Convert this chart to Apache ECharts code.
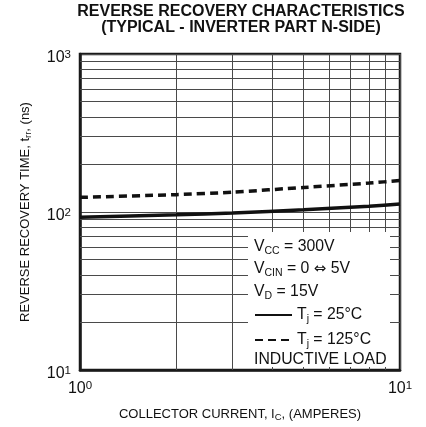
<!DOCTYPE html>
<html>
<head>
<meta charset="utf-8">
<script src="https://cdn.jsdelivr.net/npm/echarts@6/dist/echarts.min.js"></script>
<style>
html,body{margin:0;padding:0;background:#fff;}
#chart{width:426px;height:427px;}
</style>
</head>
<body>
<div id="chart"></div>
<script>
// ---- data ----
var currentA = [1, 2, 3, 5, 8, 10];
var trr25 = [92.8, 96.0, 98.6, 103.2, 108.7, 112.2];
var trr125 = [123.8, 128.8, 133.5, 143.0, 152.4, 158.3];
var xMinorGrid = [2, 3, 4, 5, 6, 7, 8, 9];
var yMinorGrid = [20, 30, 40, 50, 60, 70, 80, 90, 200, 300, 400, 500, 600, 700, 800, 900];
var xRange = [1, 10];
var yRange = [10, 1000];
var titleLines = ['REVERSE RECOVERY CHARACTERISTICS', '(TYPICAL - INVERTER PART N-SIDE)'];
var name25 = 'Tj = 25°C';
var name125 = 'Tj = 125°C';

var FONT = "'Liberation Sans', Arial, Helvetica, sans-serif";
var INK = '#111';
var GRIDC = '#4a4a4a';

function pairs(xs, ys) { return xs.map(function (x, i) { return [x, ys[i]]; }); }

var gridSegs = xMinorGrid.map(function (v) { return { coords: [[v, yRange[0]], [v, yRange[1]]] }; })
  .concat(yMinorGrid.map(function (v) { return { coords: [[xRange[0], v], [xRange[1], v]] }; }));

var boxRich = {
  m: { fontSize: 15.8, lineHeight: 20, fontFamily: FONT, fontWeight: 'normal', color: INK },
  a: { fontSize: 15, lineHeight: 20, fontFamily: "'DejaVu Sans', sans-serif", fontWeight: 'normal', color: INK },
  s: { fontSize: 10.5, lineHeight: 12, verticalAlign: 'bottom', fontFamily: FONT, fontWeight: 'normal', color: INK }
};
function boxText(txt, top) {
  return { text: txt, left: 254, top: top, padding: 0, z: 6,
           textStyle: { rich: boxRich, fontFamily: FONT, fontWeight: 'normal' } };
}
function powLabel(v) { return '{b|10}{p|' + Math.round(Math.log10(v)) + '}'; }
var labelRich = {
  b: { fontSize: 16, lineHeight: 18, fontFamily: FONT, color: INK },
  p: { fontSize: 11.5, lineHeight: 10, verticalAlign: 'top', fontFamily: FONT, color: INK }
};
var nameRich = {
  n: { fontSize: 13, lineHeight: 16, fontFamily: FONT, color: INK },
  s: { fontSize: 9.5, lineHeight: 10, verticalAlign: 'bottom', fontFamily: FONT, color: INK }
};

var chart = echarts.init(document.getElementById('chart'), null, { renderer: 'canvas' });
chart.setOption({
  animation: false,
  backgroundColor: '#fff',
  title: [
    { text: titleLines.join('\n'), left: 241, textAlign: 'center', top: 4, padding: 0,
      textStyle: { fontFamily: FONT, fontWeight: 'bold', fontSize: 16, lineHeight: 16, color: INK } },
    boxText('{m|V}{s|CC}{m| = 300V}', 236.2),
    boxText('{m|V}{s|CIN}{m| = 0 }{a|\u21D4}{m| 5V}', 258.7),
    boxText('{m|V}{s|D}{m| = 15V}', 281.7),
    boxText('{m|INDUCTIVE LOAD}', 349.7)
  ],
  graphic: {
    elements: [
      { type: 'rect', z: 3, silent: true,
        shape: { x: 248, y: 232, width: 142, height: 135 },
        style: { fill: '#fff' } }
    ]
  },
  legend: {
    data: [name25, name125],
    orient: 'vertical', left: 254, top: 307, padding: 0,
    itemWidth: 37, itemHeight: 14, itemGap: 7, z: 4,
    selectedMode: false,
    itemStyle: { opacity: 0 },
    formatter: function (n) {
      return n === name25 ? '{m|T}{s|j}{m| = 25°C}' : '{m|T}{s|j}{m| = 125°C}';
    },
    textStyle: { rich: boxRich, fontFamily: FONT, color: INK }
  },
  grid: { left: 80, right: 26, top: 54, bottom: 54, show: true,
          borderColor: '#1a1a1a', borderWidth: 2.5, backgroundColor: 'transparent' },
  xAxis: {
    type: 'log', logBase: 10, min: xRange[0], max: xRange[1],
    name: '{n|COLLECTOR CURRENT, I}{s|C}{n|, (AMPERES)}',
    nameLocation: 'middle', nameGap: 36,
    nameTextStyle: { rich: nameRich },
    axisLine: { show: true, lineStyle: { color: '#1a1a1a', width: 2.5 } },
    axisTick: { show: false },
    minorTick: { show: false },
    minorSplitLine: { show: false },
    splitLine: { show: true, lineStyle: { color: GRIDC, width: 1 } },
    axisLabel: { margin: 9.5, formatter: powLabel, rich: labelRich }
  },
  yAxis: {
    type: 'log', logBase: 10, min: yRange[0], max: yRange[1],
    name: '{n|REVERSE RECOVERY TIME, t}{s|rr}{n|, (ns)}',
    nameLocation: 'middle', nameGap: 47, nameRotate: 90,
    nameTextStyle: { rich: nameRich },
    axisLine: { show: true, lineStyle: { color: '#1a1a1a', width: 2.5 } },
    axisTick: { show: false },
    minorTick: { show: false },
    minorSplitLine: { show: false },
    splitLine: { show: true, lineStyle: { color: GRIDC, width: 1 } },
    axisLabel: { margin: 9, formatter: powLabel, rich: labelRich, padding: [7, 0, 0, 0] }
  },
  series: [
    {
      name: 'grid-minor', type: 'lines', coordinateSystem: 'cartesian2d',
      silent: true, z: 1, polyline: false,
      lineStyle: { color: GRIDC, width: 1, type: 'solid', opacity: 1 },
      data: gridSegs
    },
    {
      name: name25, type: 'line', data: pairs(currentA, trr25),
      symbol: 'none', smooth: 0.2, z: 2,
      lineStyle: { color: '#111', width: 3.5, type: 'solid' },
      itemStyle: { color: '#111' }
    },
    {
      name: name125, type: 'line', data: pairs(currentA, trr125),
      symbol: 'none', smooth: 0.2, z: 2,
      lineStyle: { color: '#111', width: 3.5, type: [8, 5] },
      itemStyle: { color: '#111' }
    }
  ]
});
</script>
</body>
</html>
